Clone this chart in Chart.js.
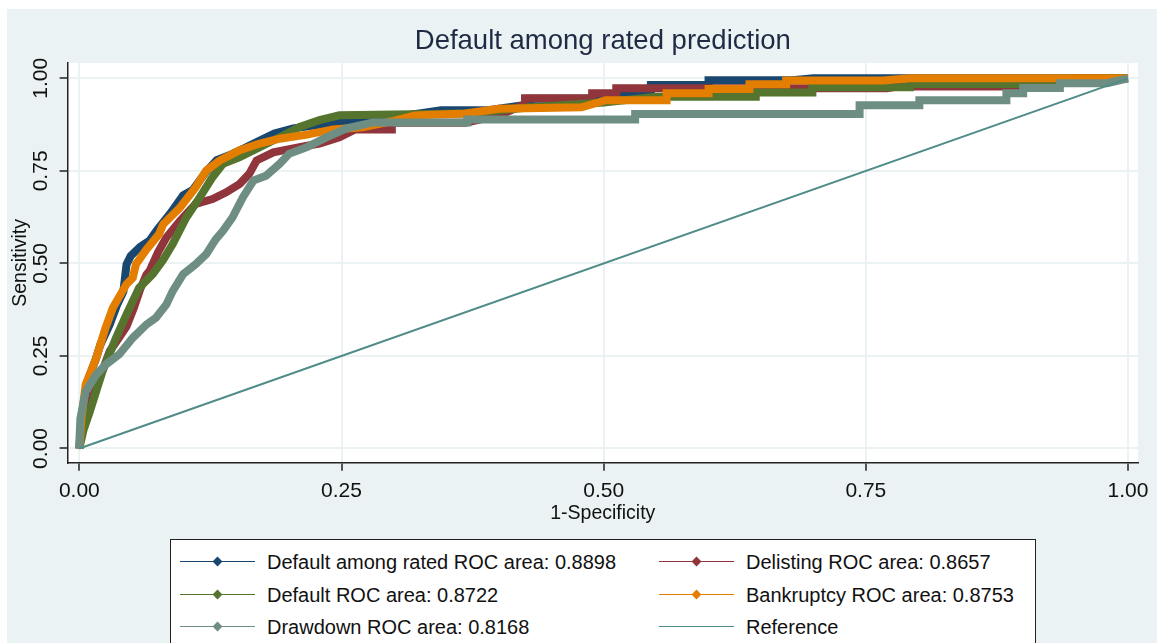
<!DOCTYPE html>
<html>
<head>
<meta charset="utf-8">
<script src="https://cdn.jsdelivr.net/npm/chart.js@4.4.1/dist/chart.umd.min.js"></script>
<style>
  html, body { margin: 0; padding: 0; background: #fff; }
  #wrap { position: relative; width: 1157px; height: 643px; overflow: hidden; }
  #rocChart { position: absolute; left: 0; top: 0; }
  #legend {
    position: absolute; left: 170px; top: 539px; width: 866px; height: 130px;
    background: #fff; border: 1px solid #222; box-sizing: border-box;
    font-family: 'Liberation Sans', Arial, sans-serif; font-size: 20px; color: #111;
  }
  .lg-item { position: absolute; height: 24px; }
  .lg-line { position: absolute; top: 11px; width: 75px; height: 0; border-top: 1.6px solid; }
  .lg-dot { position: absolute; top: 8px; width: 7px; height: 7px; transform: rotate(45deg); }
  .lg-text { position: absolute; top: 0; line-height: 24px; white-space: nowrap; }
</style>
</head>
<body>
<div id="wrap">
  <canvas id="rocChart" width="1157" height="643"></canvas>
  <div id="legend"></div>
</div>
<script>
// ─── Data ────────────────────────────────────────────────────────────────────
const TITLE = 'Default among rated prediction';
const X_TITLE = '1-Specificity';
const Y_TITLE = 'Sensitivity';
const X_TICKS = [0, 0.25, 0.5, 0.75, 1];
const Y_TICKS = [0, 0.25, 0.5, 0.75, 1];

const SERIES_NAMES = [
  'Default among rated ROC area: 0.8898',
  'Delisting ROC area: 0.8657',
  'Default ROC area: 0.8722',
  'Bankruptcy ROC area: 0.8753',
  'Drawdown ROC area: 0.8168',
  'Reference'
];

// [1-specificity, sensitivity]
const ratedRoc = [[0,0],[0.002,0.08],[0.009,0.19],[0.016,0.244],[0.02,0.28],[0.029,0.335],[0.036,0.388],[0.042,0.424],
  [0.045,0.497],[0.049,0.52],[0.058,0.545],[0.067,0.562],[0.074,0.59],[0.087,0.636],[0.099,0.684],[0.108,0.698],
  [0.121,0.748],[0.131,0.779],[0.143,0.792],[0.157,0.811],[0.17,0.829],[0.186,0.851],[0.204,0.865],[0.23,0.875],
  [0.26,0.885],[0.3,0.895],[0.345,0.914],[0.39,0.914],[0.43,0.93],[0.43,0.945],[0.49,0.945],[0.545,0.965],
  [0.545,0.982],[0.6,0.982],[0.6,0.995],[0.68,0.995],[0.7,1],[1,1]];

const delistRoc = [[0,0],[0.003,0.07],[0.013,0.14],[0.022,0.21],[0.029,0.263],[0.038,0.3],[0.045,0.33],[0.052,0.38],
  [0.058,0.43],[0.064,0.47],[0.067,0.48],[0.075,0.53],[0.083,0.57],[0.096,0.615],[0.111,0.661],[0.127,0.674],
  [0.14,0.692],[0.153,0.715],[0.162,0.742],[0.169,0.778],[0.185,0.8],[0.21,0.814],[0.229,0.824],[0.248,0.841],
  [0.263,0.862],[0.298,0.862],[0.298,0.88],[0.368,0.88],[0.4,0.9],[0.425,0.93],[0.425,0.946],[0.489,0.946],
  [0.489,0.96],[0.512,0.96],[0.512,0.973],[0.77,0.973],[0.78,0.978],[0.93,0.978],[0.95,1],[1,1]];

const defaultRoc = [[0,0],[0.004,0.05],[0.01,0.1],[0.022,0.208],[0.035,0.299],[0.045,0.362],[0.057,0.434],[0.07,0.471],
  [0.08,0.51],[0.089,0.552],[0.102,0.624],[0.115,0.679],[0.127,0.733],[0.137,0.769],[0.153,0.787],[0.172,0.814],
  [0.191,0.841],[0.21,0.869],[0.229,0.887],[0.248,0.9],[0.37,0.905],[0.43,0.922],[0.5,0.935],[0.55,0.95],
  [0.645,0.95],[0.645,0.962],[0.699,0.962],[0.699,0.976],[0.792,0.976],[0.792,0.985],[0.93,0.985],[0.95,1],[1,1]];

const bankruptRoc = [[0,0],[0.002,0.08],[0.006,0.173],[0.016,0.244],[0.025,0.326],[0.032,0.38],[0.045,0.444],
  [0.051,0.461],[0.054,0.498],[0.064,0.538],[0.076,0.579],[0.08,0.606],[0.096,0.651],[0.111,0.706],[0.121,0.751],
  [0.134,0.778],[0.153,0.806],[0.172,0.824],[0.191,0.837],[0.217,0.848],[0.242,0.862],[0.27,0.868],[0.3,0.885],
  [0.32,0.9],[0.368,0.905],[0.4,0.918],[0.479,0.922],[0.502,0.941],[0.56,0.941],[0.56,0.96],[0.6,0.96],
  [0.6,0.971],[0.639,0.971],[0.639,0.984],[0.674,0.984],[0.674,0.994],[0.766,0.994],[0.792,1],[1,1]];

const drawdownRoc = [[0,0],[0,0.018],[0.001,0.081],[0.006,0.154],[0.016,0.199],[0.025,0.226],[0.038,0.254],
  [0.051,0.299],[0.064,0.335],[0.073,0.353],[0.083,0.389],[0.089,0.425],[0.099,0.471],[0.111,0.498],[0.121,0.525],
  [0.13,0.565],[0.137,0.588],[0.146,0.624],[0.156,0.679],[0.166,0.724],[0.178,0.737],[0.191,0.769],[0.2,0.796],
  [0.217,0.814],[0.236,0.841],[0.255,0.865],[0.28,0.881],[0.37,0.881],[0.37,0.889],[0.53,0.889],[0.53,0.904],
  [0.744,0.904],[0.744,0.927],[0.801,0.927],[0.801,0.941],[0.884,0.941],[0.884,0.96],[0.9,0.96],[0.9,0.974],
  [0.935,0.974],[0.935,0.987],[0.98,0.987],[1,1]];

const referenceLine = [[0,0],[1,1]];

// ─── Styling ─────────────────────────────────────────────────────────────────
const COLORS = ['#1a476f', '#90353b', '#55752f', '#e37e00', '#6e8e84', '#4f8b87'];
const FONT = "'Liberation Sans', Arial, sans-serif";
const BG = '#eaf2f3';

const toXY = pts => pts.map(p => ({ x: p[0], y: p[1] }));
const allSeries = [ratedRoc, delistRoc, defaultRoc, bankruptRoc, drawdownRoc, referenceLine];

const datasets = allSeries.map((pts, i) => ({
  label: SERIES_NAMES[i],
  data: toXY(pts),
  borderColor: COLORS[i],
  backgroundColor: COLORS[i],
  borderWidth: i === 5 ? 2 : 8,
  borderJoinStyle: 'miter',
  pointRadius: 0,
  tension: 0,
  fill: false,
  order: 5 - i   // later series drawn on top, reference last
}));

const bgPlugin = {
  id: 'stataBg',
  beforeDraw(chart) {
    const { ctx, chartArea: a } = chart;
    ctx.save();
    ctx.fillStyle = '#fff';
    ctx.fillRect(0, 0, chart.width, chart.height);
    ctx.fillStyle = BG;
    ctx.fillRect(7, 9, chart.width - 7, chart.height - 9);
    ctx.fillStyle = '#fff';
    ctx.fillRect(a.left, a.top, a.right - a.left, a.bottom - a.top);
    ctx.restore();
  }
};

const fixedTicks = vals => scale => { scale.ticks = vals.map(v => ({ value: v })); };

new Chart(document.getElementById('rocChart'), {
  type: 'line',
  data: { datasets },
  plugins: [bgPlugin],
  options: {
    responsive: false,
    animation: false,
    devicePixelRatio: 1,
    layout: { padding: { top: 0, left: 9, right: 19, bottom: 118 } },
    scales: {
      x: {
        type: 'linear',
        min: -0.0112, max: 1.0095,
        afterBuildTicks: fixedTicks(X_TICKS),
        grid: { color: BG, lineWidth: 2, tickColor: '#222', tickLength: 8, tickWidth: 1.5 },
        border: { display: true, color: '#222', width: 1.5 },
        ticks: {
          padding: 7.4, color: '#111', maxRotation: 0, autoSkip: false,
          font: { family: FONT, size: 21 },
          callback: v => Number(v).toFixed(2)
        },
        title: { display: true, text: X_TITLE, color: '#111', padding: { top: -9.2, bottom: 0 },
                 font: { family: FONT, size: 19.5 } }
      },
      y: {
        type: 'linear',
        min: -0.0388, max: 1.0415,
        afterBuildTicks: fixedTicks(Y_TICKS),
        grid: { color: BG, lineWidth: 2, tickColor: '#222', tickLength: 8, tickWidth: 1.5 },
        border: { display: true, color: '#222', width: 1.5 },
        ticks: {
          padding: -2, color: '#111', minRotation: 90, maxRotation: 90, crossAlign: 'center', autoSkip: false,
          font: { family: FONT, size: 21 },
          callback: v => Number(v).toFixed(2)
        },
        title: { display: true, text: Y_TITLE, color: '#111', padding: { top: 0, bottom: 6 },
                 font: { family: FONT, size: 19.5 } }
      }
    },
    plugins: {
      legend: { display: false },
      tooltip: { enabled: false },
      title: {
        display: true, text: TITLE, color: '#1f2a44', fullSize: false,
        font: { family: FONT, size: 27.5, weight: 'normal' },
        padding: { top: 25, bottom: 5 }
      }
    }
  }
});

// ─── HTML legend (Stata style, two columns) ──────────────────────────────────
const legendEl = document.getElementById('legend');
SERIES_NAMES.forEach((name, i) => {
  const col = i % 2, row = Math.floor(i / 2);
  const item = document.createElement('div');
  item.className = 'lg-item';
  item.style.left = (col === 0 ? 9 : 488) + 'px';
  item.style.top = (10 + row * 32.7) + 'px';
  const line = document.createElement('div');
  line.className = 'lg-line';
  line.style.left = '0px';
  line.style.borderColor = COLORS[i];
  item.appendChild(line);
  if (i < 5) {
    const dot = document.createElement('div');
    dot.className = 'lg-dot';
    dot.style.left = '34px';
    dot.style.background = COLORS[i];
    item.appendChild(dot);
  }
  const txt = document.createElement('div');
  txt.className = 'lg-text';
  txt.style.left = '87px';
  txt.textContent = name;
  item.appendChild(txt);
  legendEl.appendChild(item);
});
</script>
</body>
</html>
